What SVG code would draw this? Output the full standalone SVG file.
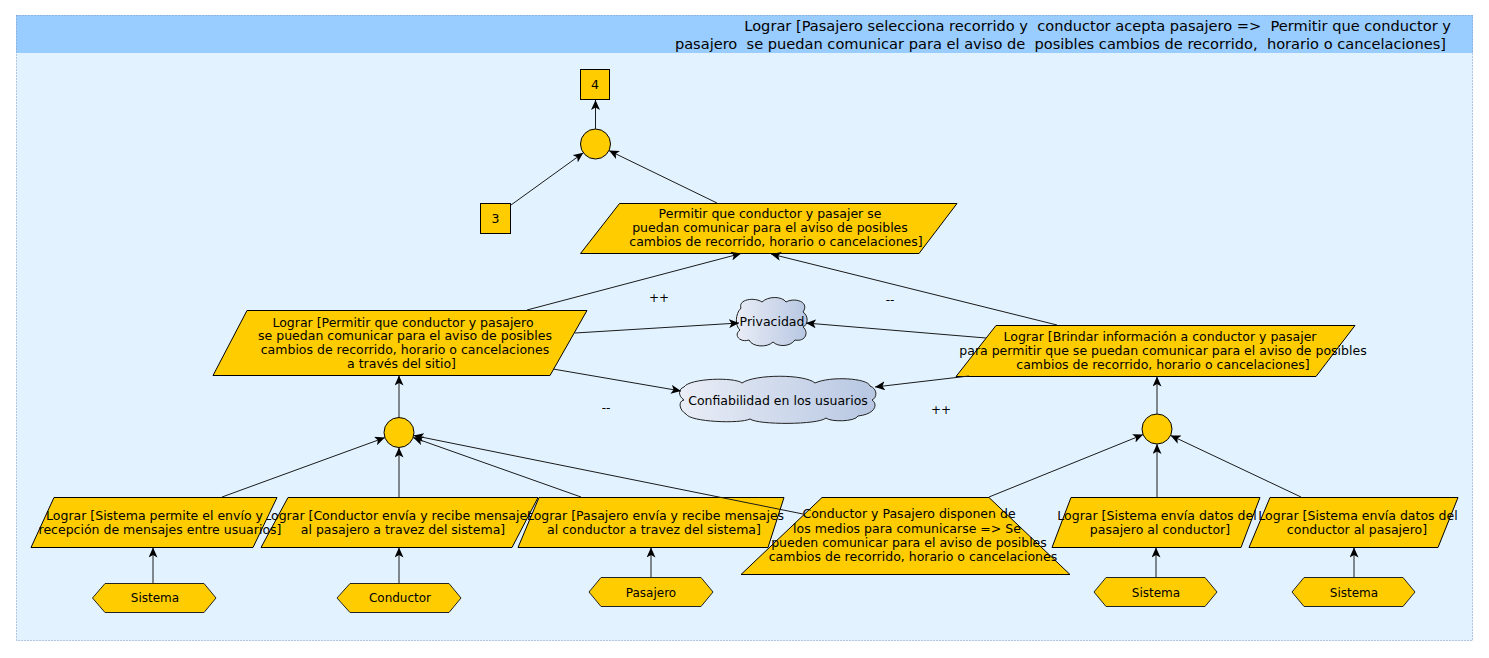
<svg xmlns="http://www.w3.org/2000/svg" width="1489" height="658" viewBox="0 0 1489 658">
<style>
text{font-family:"DejaVu Sans","Liberation Sans",sans-serif;font-size:12.5px;fill:#000}
.hdr{font-size:14.6px;white-space:pre}
.act{font-size:12px}
.lbl{font-size:12px}
.goal{fill:#FFCC00;stroke:#000;stroke-width:1}
.actor{fill:#FFCC00;stroke:#222;stroke-width:1}
.cloud{fill:url(#cg);stroke:#222;stroke-width:1}
.c{text-anchor:middle}
.edge{fill:none;stroke:#1a1a1a;stroke-width:1}
.arr{marker-end:url(#ah)}
</style>
<defs>
<marker id="ah" viewBox="0 0 10 9" refX="10" refY="4.5" markerWidth="10" markerHeight="9" orient="auto" markerUnits="userSpaceOnUse">
<path d="M0,0 L10,4.5 L0,9 L2.5,4.5 Z" fill="#000"/>
</marker>
<linearGradient id="cg" x1="0" y1="0" x2="1" y2="0">
<stop offset="0" stop-color="#E9EDF6"/>
<stop offset="1" stop-color="#B7C7E2"/>
</linearGradient>
</defs>

<g id="container">
<rect x="16" y="15" width="1457" height="626" fill="#E2F3FF"/>
<rect x="16" y="15" width="1457" height="38" fill="#99CCFF"/>
<rect x="16.5" y="15.5" width="1456" height="625" fill="none" stroke="#8A9AB8" stroke-width="1" stroke-dasharray="1,2"/>
<text class="hdr" x="1451" y="31" text-anchor="end">Lograr [Pasajero selecciona recorrido y  conductor acepta pasajero =&gt;  Permitir que conductor y</text>
<text class="hdr" x="1446" y="49" text-anchor="end">pasajero  se puedan comunicar para el aviso de  posibles cambios de recorrido,  horario o cancelaciones]</text>
</g>

<g id="n4">
<rect class="goal" x="580.5" y="69.5" width="29" height="30"/>
<text class="c" x="595" y="89">4</text>
</g>
<g id="n3">
<rect class="goal" x="480.5" y="203.5" width="30" height="30"/>
<text class="c" x="495.5" y="223">3</text>
</g>
<g id="andTop">
<circle class="goal" cx="595.5" cy="144" r="15"/>
</g>
<g id="permitir">
<polygon class="goal" points="619.5,203.5 957,203.5 919,253.5 580.5,253.5"/>
<text class="c" x="770" y="217.5">Permitir que conductor y pasajer se</text>
<text class="c" x="770" y="231.5">puedan comunicar para el aviso de posibles</text>
<text class="c" x="776" y="245.5">cambios de recorrido, horario o cancelaciones]</text>
</g>
<g id="leftGoal">
<polygon class="goal" points="247,310.5 587,310.5 550,375.5 213,375.5"/>
<text class="c" x="403" y="326.5">Lograr [Permitir que conductor y pasajero</text>
<text class="c" x="405" y="340.3">se puedan comunicar para el aviso de posibles</text>
<text class="c" x="405" y="354">cambios de recorrido, horario o cancelaciones</text>
<text class="c" x="401.5" y="367.7">a través del sitio]</text>
</g>
<g id="rightGoal">
<polygon class="goal" points="996,325.5 1355,325.5 1316,376.5 956,376.5"/>
<text class="c" x="1160" y="341">Lograr [Brindar información a conductor y pasajer</text>
<text class="c" x="1163" y="355">para permitir que se puedan comunicar para el aviso de posibles</text>
<text class="c" x="1163" y="369">cambios de recorrido, horario o cancelaciones]</text>
</g>
<g id="privacidad">
<path class="cloud" d="M741,308 C738,299 755,297 762,302 C768,296 782,296 786,302 C795,297 810,302 803,312 C809,316 808,325 803,327 C809,332 806,342 795,340 C790,347 778,347 773,342 C767,348 752,347 749,340 C740,343 733,335 740,330 C735,326 735,314 741,308 Z"/>
<text class="c" x="772" y="326">Privacidad</text>
</g>
<g id="confiabilidad">
<path class="cloud" d="M684,387 C690,378 735,377 742,383 C755,374 805,374 815,383 C830,376 868,378 870,386 C878,389 877,398 872,400 C878,404 876,414 858,416 C855,422 830,422 826,418 C818,425 758,425 750,419 C740,424 690,422 686,414 C679,410 678,401 684,400 C678,396 678,389 684,387 Z"/>
<text class="c" x="778" y="405">Confiabilidad en los usuarios</text>
</g>
<g id="andLeft">
<circle class="goal" cx="399" cy="432.5" r="15"/>
</g>
<g id="andRight">
<circle class="goal" cx="1157" cy="429" r="15"/>
</g>
<g id="g2">
<polygon class="goal" points="288,497.5 538,497.5 512,547.5 261,547.5"/>
<text class="c" x="399" y="520">Lograr [Conductor envía y recibe mensajes</text>
<text class="c" x="403" y="534">al pasajero a travez del sistema]</text>
</g>
<g id="g1">
<polygon class="goal" points="54,497.5 277,497.5 253,547.5 31,547.5"/>
<text class="c" x="154.5" y="520">Lograr [Sistema permite el envío y</text>
<text class="c" x="160" y="534">recepción de mensajes entre usuarios]</text>
</g>
<g id="g3">
<polygon class="goal" points="539,497.5 784,497.5 768,547.5 518,547.5"/>
<text class="c" x="655.5" y="520">Lograr [Pasajero envía y recibe mensajes</text>
<text class="c" x="654" y="534">al conductor a travez del sistema]</text>
</g>
<g id="g4">
<polygon class="goal" points="822,497.5 989,497.5 1070,574.5 741,574.5"/>
<text class="c" x="909" y="518">Conductor y Pasajero disponen de</text>
<text class="c" x="907" y="532.5">los medios para comunicarse =&gt; Se</text>
<text class="c" x="909" y="547">pueden comunicar para el aviso de posibles</text>
<text class="c" x="913" y="561">cambios de recorrido, horario o cancelaciones</text>
</g>
<g id="g5">
<polygon class="goal" points="1071,497.5 1260,497.5 1241,547.5 1052,547.5"/>
<text class="c" x="1157" y="520">Lograr [Sistema envía datos del</text>
<text class="c" x="1160" y="534">pasajero al conductor]</text>
</g>
<g id="g6">
<polygon class="goal" points="1270,497.5 1458,497.5 1438,547.5 1249,547.5"/>
<text class="c" x="1358" y="520">Lograr [Sistema envía datos del</text>
<text class="c" x="1357" y="534">conductor al pasajero]</text>
</g>
<g id="a1">
<polygon class="actor" points="92.5,598 105,583.5 204,583.5 216,598 204,612.5 105,612.5"/>
<text class="c act" x="155" y="602">Sistema</text>
</g>
<g id="a2">
<polygon class="actor" points="337,598 350,583.5 449,583.5 461,598 449,612.5 350,612.5"/>
<text class="c act" x="400" y="602">Conductor</text>
</g>
<g id="a3">
<polygon class="actor" points="589,592 601,577.5 701,577.5 713,592 701,606.5 601,606.5"/>
<text class="c act" x="651" y="596.5">Pasajero</text>
</g>
<g id="a4">
<polygon class="actor" points="1094,592 1106,577.5 1205,577.5 1217,592 1205,606.5 1106,606.5"/>
<text class="c act" x="1156" y="596.5">Sistema</text>
</g>
<g id="a5">
<polygon class="actor" points="1292,592 1304,577.5 1403,577.5 1415,592 1403,606.5 1304,606.5"/>
<text class="c act" x="1354" y="596.5">Sistema</text>
</g>

<g id="connectors">
<path class="edge arr" d="M595.5,129 L595.5,100"/>
<path class="edge arr" d="M511,205 L583.3,152.8"/>
<path class="edge arr" d="M717,203 L609,150.6"/>
<path class="edge arr" d="M527,310 L741,253.5"/>
<path class="edge arr" d="M1057,325 L771,254"/>
<path class="edge arr" d="M575,333 L739,323"/>
<path class="edge arr" d="M553,369 L681,391"/>
<path class="edge arr" d="M986,338 L806,323"/>
<path class="edge arr" d="M969,376 L875,387"/>
<path class="edge arr" d="M399,417.5 L399,375.5"/>
<path class="edge arr" d="M222,497 L384.9,437.6"/>
<path class="edge arr" d="M399,497 L399,447.5"/>
<path class="edge arr" d="M581,497 L413.1,437.5"/>
<path class="edge arr" d="M803,514 L413.7,435.5"/>
<path class="edge arr" d="M1157,414 L1157,376.5"/>
<path class="edge arr" d="M989,497 L1143.1,434.6"/>
<path class="edge arr" d="M1157,497 L1157,444"/>
<path class="edge arr" d="M1301,497 L1170.6,435.4"/>
<path class="edge arr" d="M153,583 L153,547.5"/>
<path class="edge arr" d="M399,583 L399,547.5"/>
<path class="edge arr" d="M651,577 L651,547.5"/>
<path class="edge arr" d="M1156,577 L1156,547.5"/>
<path class="edge arr" d="M1354,577 L1354,547.5"/>
<text class="c lbl" x="659" y="302">++</text>
<text class="c lbl" x="606" y="412">--</text>
<text class="c lbl" x="890" y="304">--</text>
<text class="c lbl" x="941" y="414">++</text>
</g>
</svg>
